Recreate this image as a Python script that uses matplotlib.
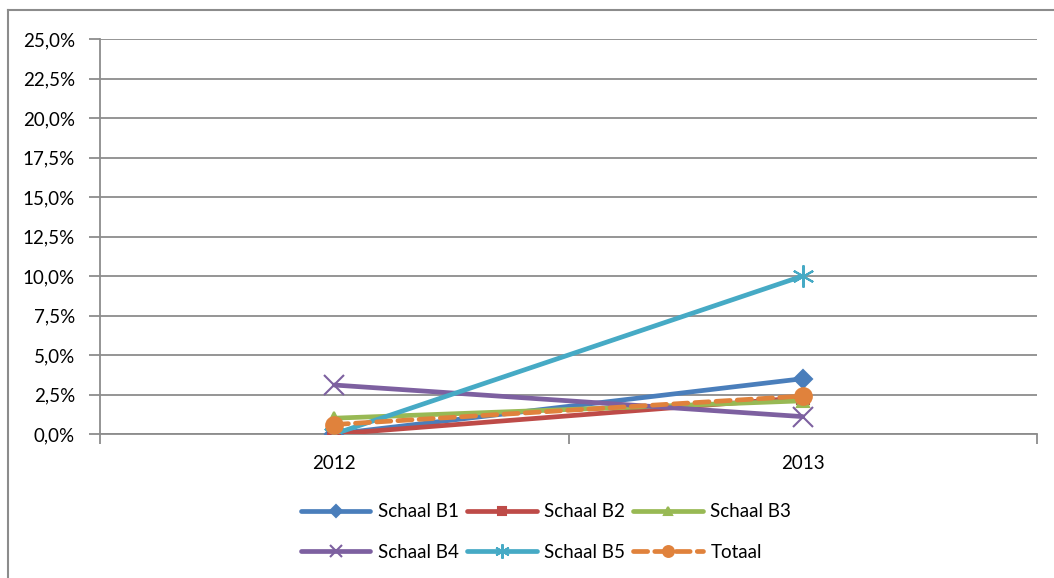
import matplotlib.pyplot as plt
from matplotlib.ticker import FuncFormatter
from matplotlib.lines import Line2D

plt.rcParams["font.family"] = ["Lato", "DejaVu Sans"]

# data
jaren = ["2012", "2013"]
schaal_b1 = [0.0, 3.5]
schaal_b2 = [0.0, 2.3]
schaal_b3 = [1.0, 2.1]
schaal_b4 = [3.1, 1.1]
schaal_b5 = [0.0, 10.0]
totaal = [0.6, 2.4]

series = [
    ("Schaal B1", schaal_b1, "#4A7EBB", "D", 9, "-"),
    ("Schaal B2", schaal_b2, "#BE4B48", "s", 9, "-"),
    ("Schaal B3", schaal_b3, "#98B954", "^", 9, "-"),
    ("Schaal B4", schaal_b4, "#7D60A0", "x", 14, "-"),
    ("Schaal B5", schaal_b5, "#46AAC5", (6, 2, 0), 16, "-"),
    ("Totaal", totaal, "#E0823C", "o", 12, (0, (3, 1.5))),
]

fig = plt.figure(figsize=(10.54, 5.78), dpi=100)
ax = fig.add_axes([100 / 1054, 1 - 434 / 578, 937 / 1054, 395 / 578])

x = list(range(len(jaren)))
lijnen = []
for naam, vals, kleur, mk, ms, ls in series:
    (ln,) = ax.plot(x, vals, color=kleur, linewidth=3.4, linestyle=ls, marker=mk,
                    markersize=ms, markeredgewidth=1.5, markeredgecolor=kleur,
                    markerfacecolor=kleur, label=naam, zorder=3,
                    solid_capstyle="round", dash_capstyle="round")
    lijnen.append(ln)

ax.set_xlim(-0.5, 1.5)
ax.set_ylim(0, 25)
ax.set_yticks([i * 2.5 for i in range(11)])
ax.yaxis.set_major_formatter(FuncFormatter(lambda v, p: f"{v:.1f}%".replace(".", ",")))
ax.grid(axis="y", color="#8C8C8C", linewidth=1.3)
ax.set_axisbelow(True)

ax.set_xticks([-0.5, 0.5, 1.5])
ax.set_xticklabels([])
ax.set_xticks(x, minor=True)
ax.set_xticklabels(jaren, minor=True)
ax.tick_params(axis="x", which="minor", length=0, pad=15, labelsize=13.5)
ax.tick_params(axis="x", which="major", length=7, width=1.3, color="#8C8C8C")
ax.tick_params(axis="y", length=8, width=1.3, color="#8C8C8C", labelsize=13.5, pad=10)

for s in ["top", "right"]:
    ax.spines[s].set_visible(False)
for s in ["left", "bottom"]:
    ax.spines[s].set_color("#8C8C8C")
    ax.spines[s].set_linewidth(1.3)

# outer chart border
fig.add_artist(Line2D([8 / 1054, 8 / 1054], [0, 1 - 10 / 578], color="#8C8C8C", linewidth=1.5))
fig.add_artist(Line2D([8 / 1054, 1], [1 - 10 / 578, 1 - 10 / 578], color="#8C8C8C", linewidth=1.5))

# legend rij voor rij
volgorde = [0, 3, 1, 4, 2, 5]
fig.legend([lijnen[i] for i in volgorde], [series[i][0] for i in volgorde],
           loc="center", bbox_to_anchor=(546 / 1054, 1 - 532 / 578), ncol=3,
           frameon=False, fontsize=13.5, handlelength=3.7, columnspacing=0.45,
           labelspacing=1.25, handletextpad=0.4, markerscale=0.65)

fig.savefig("out.png", dpi=100)
